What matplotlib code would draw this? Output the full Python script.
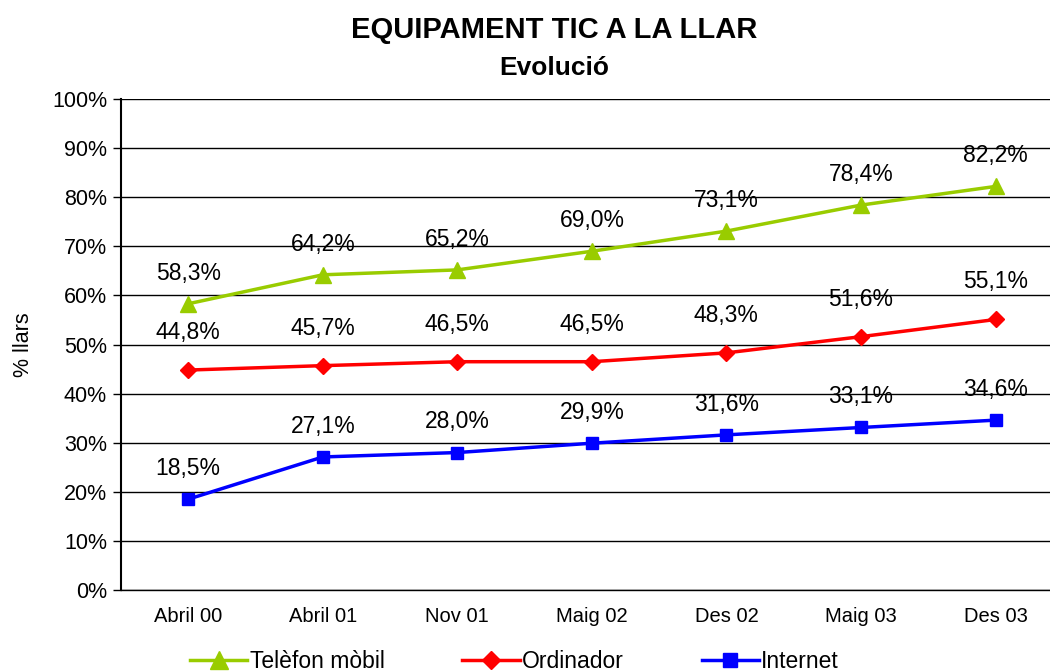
import matplotlib.pyplot as plt
from matplotlib.ticker import FuncFormatter

plt.rcParams["font.family"] = ["Liberation Sans", "DejaVu Sans"]

# data
periods = ["Abril 00", "Abril 01", "Nov 01", "Maig 02", "Des 02", "Maig 03", "Des 03"]
mobil = [58.3, 64.2, 65.2, 69.0, 73.1, 78.4, 82.2]
ordinador = [44.8, 45.7, 46.5, 46.5, 48.3, 51.6, 55.1]
internet = [18.5, 27.1, 28.0, 29.9, 31.6, 33.1, 34.6]

series = [
    ("Telèfon mòbil", mobil, "#99CC00", "^", 11, 22),
    ("Ordinador", ordinador, "#FF0000", "D", 8, 27),
    ("Internet", internet, "#0000FF", "s", 9, 22),
]

fig = plt.figure(figsize=(10.5, 6.71), dpi=100)
ax = fig.add_axes([0.1152, 0.1207, 0.897, 0.7317])

x = range(len(periods))
for name, vals, color, marker, ms, off in series:
    ax.plot(x, vals, color=color, lw=2.5, marker=marker, markersize=ms,
            label=name, clip_on=False, zorder=3)
    for xi, v in zip(x, vals):
        ax.annotate(f"{v:.1f}%".replace(".", ","), (xi, v),
                    xytext=(0, off), textcoords="offset points",
                    ha="center", va="center", fontsize=16.5)

ax.set_xlim(-0.5, len(periods) - 0.5)
ax.set_ylim(0, 100)
ax.set_yticks(range(0, 101, 10))
ax.yaxis.set_major_formatter(FuncFormatter(lambda v, p: f"{int(v)}%"))
ax.set_xticks(list(x))
ax.set_xticklabels(periods)
ax.tick_params(axis="y", labelsize=15.5, length=6, width=1, direction="out", pad=4)
ax.tick_params(axis="x", labelsize=14.5, length=0, pad=12)
ax.grid(axis="y", color="black", lw=1)
ax.set_axisbelow(True)
for s in ["top", "right"]:
    ax.spines[s].set_visible(False)
ax.spines["left"].set_linewidth(1.5)
ax.spines["bottom"].set_linewidth(1)
ax.set_ylabel("% llars", fontsize=15.5, labelpad=13)

fig.text(0.528, 0.955, "EQUIPAMENT TIC A LA LLAR", ha="center", va="center",
         fontsize=21, fontweight="bold")
fig.text(0.528, 0.898, "Evolució", ha="center", va="center",
         fontsize=19, fontweight="bold")

fig.legend(loc="center", bbox_to_anchor=(0.49, 0.014), ncol=3, frameon=False,
           fontsize=16.5, handlelength=2.5, columnspacing=3.4, handletextpad=0.1,
           markerscale=1.15)

fig.savefig("out.png", dpi=100)
